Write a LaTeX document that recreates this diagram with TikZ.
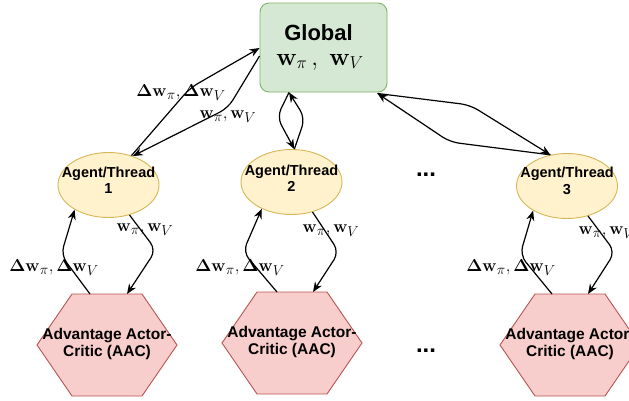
\documentclass[tikz,border=0pt]{standalone}
\usepackage[no-math]{fontspec}
\newfontfamily\arialf{Liberation Sans}
\usetikzlibrary{arrows.meta,shapes.geometric,calc}
\definecolor{gfill}{HTML}{D5E8D4}
\definecolor{gline}{HTML}{82B366}
\definecolor{yfill}{HTML}{FFF2CC}
\definecolor{yline}{HTML}{D6B656}
\definecolor{rfill}{HTML}{F8CECC}
\definecolor{rline}{HTML}{B85450}
\tikzset{
  globalbox/.style={draw=gline,fill=gfill,rounded corners=9pt,line width=0.9pt,minimum width=127pt,minimum height=89pt,inner sep=0pt},
  agentbox/.style={ellipse,draw=yline,fill=yfill,line width=0.9pt,minimum width=101pt,minimum height=65pt,inner sep=0pt},
  agenttext/.style={align=center,font=\arialf\bfseries\fontsize{14.5}{16.5}\selectfont,inner sep=0pt},
  hextext/.style={align=center,font=\arialf\bfseries\fontsize{15.5}{16.5}\selectfont,inner sep=0pt},
  hexa/.pic={
    \draw[draw=rline,fill=rfill,line width=0.9pt] (-70,0)--(-35,-51)--(35,-51)--(70,0)--(35,51)--(-35,51)--cycle;
    \coordinate (-t) at (0,-51);
  },
  conn/.style={draw,line width=1.2pt,rounded corners=9pt,-{Stealth[length=10pt,width=8pt]}},
  lbl/.style={inner sep=0pt,font=\fontsize{19}{22}\selectfont},
  dots/.style={inner sep=0pt,anchor=base,font=\arialf\bfseries\fontsize{24}{24}\selectfont}
}
\begin{document}
\begin{tikzpicture}[x=1pt,y=-1pt]
\useasboundingbox (0,0) rectangle (629,400);
% global
\node[globalbox] (g) at (323.5,47.5) {};
\node[inner sep=0pt,font=\arialf\bfseries\fontsize{22}{24}\selectfont] (gt) at (318.5,33) {Global};
\node[inner sep=0pt,font=\fontsize{23}{26}\selectfont] (gm) at (320,62) {$\mathbf{w}_{\pi}\,,\ \mathbf{w}_{V}$};
% agents
\node[agentbox] (a1) at (108.5,185) {};
\node[agenttext] (a1t) at (108.5,180) {Agent/Thread\\1};
\node[agentbox] (a2) at (291.5,182) {};
\node[agenttext] (a2t) at (291.5,178) {Agent/Thread\\2};
\node[agentbox] (a3) at (567,186) {};
\node[agenttext] (a3t) at (567,181) {Agent/Thread\\3};
% hexagons
\pic (h1) at (107,345) {hexa};
\node[hextext] (h1c) at (107,344) {Advantage Actor-\\Critic (AAC)};
\pic (h2) at (292,343) {hexa};
\node[hextext] (h2c) at (292,342) {Advantage Actor-\\Critic (AAC)};
\pic (h3) at (570,345) {hexa};
\node[hextext] (h3c) at (570,344) {Advantage Actor-\\Critic (AAC)};
% dots
\node[dots] (d1) at (426,176) {...};
\node[dots] (d2) at (426,352) {...};
% global <-> agent1
\coordinate (g1a) at (g.west|-0,48);
\coordinate (g1b) at (g.west|-0,56);
\draw[conn] (a1.52) -- (190,88) -- (g1a);
\draw[conn] (g1b) -- (228,108) -- (a1.50);
% global <-> agent2
\coordinate (g2) at (g.south-|289,0);
\draw[conn] (a2.85) -- (305,118) -- (g2);
\draw[conn] (g2) -- (277,117) -- (a2.85);
% global <-> agent3
\coordinate (g3) at ($(g.south east)+(-10,1)$);
\draw[conn] (g3) -- (470,105) -- (a3.118);
\draw[conn] (a3.118) -- (450,142) -- (g3);
% agent <-> hex
\draw[conn] ($(h1-t)+(-17,0)$) -- (61,255) -- (a1.216);
\draw[conn] (a1.305) -- (156,250) -- ($(h1-t)+(20,0)$);
\draw[conn] ($(h2-t)+(-15,0)$) -- (243,252) -- (a2.222);
\draw[conn] (a2.305) -- (339,252) -- ($(h2-t)+(21,0)$);
\draw[conn] ($(h3-t)+(-18,0)$) -- (520,255) -- (a3.216);
\draw[conn] (a3.305) -- (615,252) -- ($(h3-t)+(18,0)$);
% labels
\node[lbl] (l1) at (181,93) {$\mathbf{\Delta w}_{\pi}, \mathbf{\Delta w}_{V}$};
\node[lbl] (l2) at (228,117) {$\mathbf{w}_{\pi}, \mathbf{w}_{V}$};
\node[lbl] (l3) at (145,230) {$\mathbf{w}_{\pi}, \mathbf{w}_{V}$};
\node[lbl] (l4) at (54,268) {$\mathbf{\Delta w}_{\pi}, \mathbf{\Delta w}_{V}$};
\node[lbl] (l5) at (331,231) {$\mathbf{w}_{\pi}, \mathbf{w}_{V}$};
\node[lbl] (l6) at (240,268) {$\mathbf{\Delta w}_{\pi}, \mathbf{\Delta w}_{V}$};
\node[lbl] (l7) at (607,233) {$\mathbf{w}_{\pi}, \mathbf{w}_{V}$};
\node[lbl] (l8) at (511,268) {$\mathbf{\Delta w}_{\pi}, \mathbf{\Delta w}_{V}$};
\end{tikzpicture}
\end{document}
